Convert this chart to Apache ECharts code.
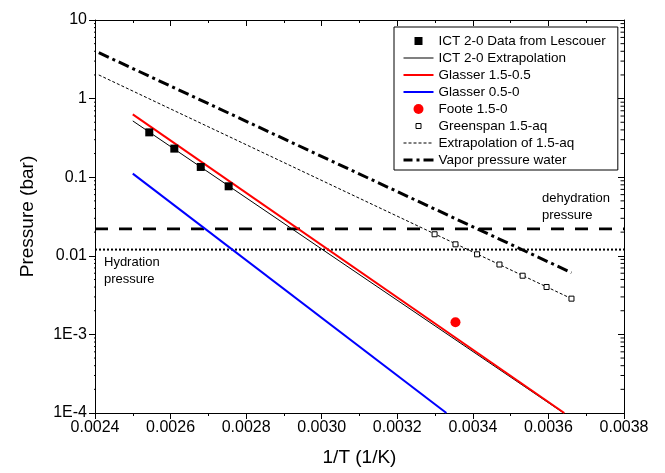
<!DOCTYPE html>
<html>
<head>
<meta charset="utf-8">
<script src="https://cdn.jsdelivr.net/npm/echarts@6/dist/echarts.min.js"></script>
<style>
  html, body { margin: 0; padding: 0; background: #fff; }
  #chart { width: 665px; height: 473px; }
</style>
</head>
<body>
<div id="chart"></div>
<script>
const FONT = 'Arial, "Liberation Sans", Helvetica, sans-serif';

// Reciprocal temperature (1/K) and pressure (bar) for each data set
const ictX = [0.0025436, 0.0026099, 0.0026799, 0.0027537];
const ictP = [0.372, 0.231, 0.135, 0.0766];
const ictFitX = [0.0025, 0.00364];
const ictFitP = [0.52, 0.0001];
const glasser15X = [0.0025, 0.003642];
const glasser15P = [0.63, 0.0001];
const glasser05X = [0.0025, 0.00333];
const glasser05P = [0.111, 0.0001];
const footeX = [0.003354];
const footeP = [0.00143];
const greenspanX = [0.0032987, 0.003354, 0.0034112, 0.0034704, 0.0035317, 0.0035951, 0.003661];
const greenspanP = [0.0188, 0.0140, 0.01045, 0.00775, 0.00558, 0.00401, 0.00285];
const greenspanExtX = [0.00241, 0.003661];
const greenspanExtP = [2.0, 0.00285];
const vaporX = [0.00241, 0.003661];
const vaporP = [3.84, 0.0061];
const dehydrationP = 0.022;
const hydrationP = 0.012;

// Axis ranges and tick labels
const xRange = [0.0024, 0.0038];
const xStep = 0.0002;
const yTickValues = [1e-4, 1e-3, 0.01, 0.1, 1, 10];
const yTickLabels = ['1E-4', '1E-3', '0.01', '0.1', '1', '10'];

const names = [
  'ICT 2-0 Data from Lescouer',
  'ICT 2-0 Extrapolation',
  'Glasser 1.5-0.5',
  'Glasser 0.5-0',
  'Foote 1.5-0',
  'Greenspan 1.5-aq',
  'Extrapolation of 1.5-aq',
  'Vapor pressure water'
];

const pairs = (xs, ys) => xs.map((x, i) => [x, ys[i]]);

// log-scale minor tick values (2..9 within each decade)
const minorVals = [];
for (let e = -4; e < 1; e++) {
  for (let m = 2; m <= 9; m++) minorVals.push(m * Math.pow(10, e));
}
// minor tick length expressed along the 1/T axis (about 3.5 px)
const tickDx = 0.0000092;
const minorTickData = [];
minorVals.forEach(v => {
  minorTickData.push([xRange[0] - tickDx, v], [xRange[0], v], null);
  minorTickData.push([xRange[1] - tickDx, v], [xRange[1], v], null);
});

// legend glyphs, each padded to a 30x10 box
const PAD = 'M0,0M30,10';
function dashRow(y, h, dash, gap) {
  let d = '';
  for (let x = 0; x < 30; x += dash + gap) {
    const w = Math.min(dash, 30 - x);
    d += 'M' + x + ',' + y + 'h' + w + 'v' + h + 'h' + (-w) + 'z';
  }
  return d;
}
const iconSquare = 'path://' + PAD + 'M11,1h8v8h-8z';
const iconThin = 'path://' + PAD + 'M0,4.5h30v1h-30z';
const iconThick = 'path://' + PAD + 'M0,4h30v2h-30z';
const iconOpenSq = 'path://' + PAD + 'M12.5,2.5h5v5h-5z';
const iconDashed = 'path://' + PAD + dashRow(4.5, 1, 3, 2);
const iconDashDot = 'path://' + PAD + 'M0,3.5h9v3h-9z' + 'M13,3.5h3v3h-3z' + 'M20,3.5h10v3h-10z';

const chart = echarts.init(document.getElementById('chart'), null, { renderer: 'canvas' });

const axisLine = { show: true, lineStyle: { color: '#000', width: 1 } };

const option = {
  animation: false,
  backgroundColor: '#fff',
  grid: { left: 95, right: 41, top: 20, bottom: 60, containLabel: false, outerBoundsMode: 'none' },
  legend: {
    orient: 'vertical',
    left: 394,
    top: 27,
    padding: [7, 12, 3, 9],
    itemGap: 3,
    itemWidth: 30,
    itemHeight: 10,
    backgroundColor: '#fff',
    borderColor: '#000',
    borderWidth: 1,
    borderRadius: 0,
    selectedMode: false,
    itemStyle: { borderWidth: 0, opacity: 1 },
    textStyle: { fontFamily: FONT, fontSize: 13.5, color: '#000', lineHeight: 14 },
    data: [
      { name: names[0], icon: iconSquare, itemStyle: { color: '#000', opacity: 1 } },
      { name: names[1], icon: iconThin, itemStyle: { color: '#000', opacity: 1 } },
      { name: names[2], icon: iconThick, itemStyle: { color: '#ff0000', opacity: 1 } },
      { name: names[3], icon: iconThick, itemStyle: { color: '#0000ff', opacity: 1 } },
      { name: names[4], icon: 'circle', itemStyle: { color: '#ff0000', opacity: 1 } },
      { name: names[5], icon: iconOpenSq, itemStyle: { color: '#fff', borderColor: '#000', borderWidth: 1, opacity: 1 } },
      { name: names[6], icon: iconDashed, itemStyle: { color: '#000', opacity: 1 } },
      { name: names[7], icon: iconDashDot, itemStyle: { color: '#000', opacity: 1 } }
    ]
  },
  xAxis: [
    {
      type: 'value', position: 'bottom',
      min: xRange[0], max: xRange[1], interval: xStep,
      name: '1/T (1/K)', nameLocation: 'middle', nameGap: 35,
      nameTextStyle: { fontFamily: FONT, fontSize: 19, color: '#000' },
      axisLine: axisLine,
      axisTick: { show: true, inside: false, length: 6, lineStyle: { color: '#000' } },
      minorTick: { show: true, splitNumber: 2, length: 3, lineStyle: { color: '#000' } },
      axisLabel: { fontFamily: FONT, fontSize: 16, color: '#000', margin: 7, formatter: v => v.toFixed(4) },
      splitLine: { show: false }
    },
    {
      type: 'value', position: 'top',
      min: xRange[0], max: xRange[1], interval: xStep,
      axisLine: axisLine,
      axisTick: { show: true, inside: true, length: 6, lineStyle: { color: '#000' } },
      minorTick: { show: true, splitNumber: 2, length: 3, lineStyle: { color: '#000' } },
      axisLabel: { show: false },
      splitLine: { show: false }
    }
  ],
  yAxis: [
    {
      type: 'log', logBase: 10, position: 'left',
      min: yTickValues[0], max: yTickValues[yTickValues.length - 1],
      name: 'Pressure (bar)', nameLocation: 'middle', nameGap: 58, nameRotate: 90,
      nameTextStyle: { fontFamily: FONT, fontSize: 19, color: '#000' },
      axisLine: axisLine,
      axisTick: { show: true, inside: false, length: 6, lineStyle: { color: '#000' } },
      axisLabel: {
        fontFamily: FONT, fontSize: 16, color: '#000', margin: 8,
        formatter: v => {
          const i = yTickValues.findIndex(t => Math.abs(Math.log10(t) - Math.log10(v)) < 1e-6);
          return i >= 0 ? yTickLabels[i] : '';
        }
      },
      splitLine: { show: false }
    },
    {
      type: 'log', logBase: 10, position: 'right',
      min: yTickValues[0], max: yTickValues[yTickValues.length - 1],
      axisLine: axisLine,
      axisTick: { show: true, inside: true, length: 6, lineStyle: { color: '#000' } },
      axisLabel: { show: false },
      splitLine: { show: false }
    }
  ],
  graphic: [
    {
      type: 'text', left: 542, top: 190, silent: true,
      style: { text: 'dehydration\npressure', font: '13px ' + FONT, fill: '#000', lineHeight: 16.7 }
    },
    {
      type: 'text', left: 104, top: 254, silent: true,
      style: { text: 'Hydration\npressure', font: '13px ' + FONT, fill: '#000', lineHeight: 16.7 }
    }
  ],
  series: [
    {
      // minor ticks of the logarithmic pressure axes
      name: 'minor ticks', type: 'line', silent: true, symbol: 'none', clip: false,
      connectNulls: false, z: 10,
      data: minorTickData,
      lineStyle: { color: '#000', width: 1 }
    },
    {
      name: 'dehydration', type: 'line', silent: true, symbol: 'none', z: 2,
      data: [[xRange[0], dehydrationP], [xRange[1], dehydrationP]],
      lineStyle: { color: '#000', width: 2.6, type: [13, 11] }
    },
    {
      name: 'hydration', type: 'line', silent: true, symbol: 'none', z: 2,
      data: [[xRange[0], hydrationP], [xRange[1], hydrationP]],
      lineStyle: { color: '#000', width: 2, type: [2, 2] }
    },
    {
      name: names[6], type: 'line', symbol: 'none', z: 2,
      data: pairs(greenspanExtX, greenspanExtP),
      lineStyle: { color: '#000', width: 1, type: [3, 2] }
    },
    {
      name: names[7], type: 'line', symbol: 'none', z: 2,
      data: pairs(vaporX, vaporP),
      lineStyle: { color: '#000', width: 3, type: [11, 4, 3, 4] }
    },
    {
      name: names[1], type: 'line', symbol: 'none', z: 3,
      data: pairs(ictFitX, ictFitP),
      lineStyle: { color: '#000', width: 1 }
    },
    {
      name: names[2], type: 'line', symbol: 'none', z: 3,
      data: pairs(glasser15X, glasser15P),
      lineStyle: { color: '#ff0000', width: 2 }
    },
    {
      name: names[3], type: 'line', symbol: 'none', z: 3,
      data: pairs(glasser05X, glasser05P),
      lineStyle: { color: '#0000ff', width: 2 }
    },
    {
      name: names[0], type: 'scatter', symbol: 'rect', symbolSize: 8, z: 4,
      data: pairs(ictX, ictP),
      itemStyle: { color: '#000', opacity: 1 }
    },
    {
      name: names[4], type: 'scatter', symbol: 'circle', symbolSize: 10, z: 4,
      data: pairs(footeX, footeP),
      itemStyle: { color: '#ff0000', opacity: 1 }
    },
    {
      name: names[5], type: 'scatter', symbol: 'rect', symbolSize: 5, z: 4,
      data: pairs(greenspanX, greenspanP),
      itemStyle: { color: '#fff', borderColor: '#000', borderWidth: 1, opacity: 1 }
    }
  ]
};

chart.setOption(option);
</script>
</body>
</html>
